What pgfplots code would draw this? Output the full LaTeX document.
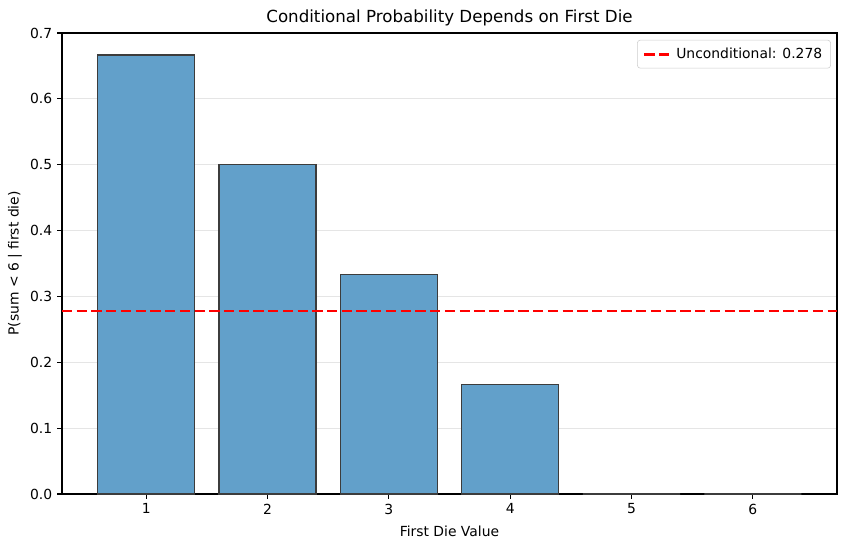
\documentclass[border=0pt]{standalone}
\usepackage{fontspec}
\setmainfont{DejaVu Sans}
\usepackage{pgfplots}
\pgfplotsset{compat=1.18}
\definecolor{barfill}{RGB}{98,160,202}
\definecolor{baredge}{RGB}{60,60,60}
\pgfplotstableread{
x y
1 0.6667
2 0.5
3 0.3333
4 0.1667
5 0
6 0
}\probs
\begin{document}
\begin{tikzpicture}
\useasboundingbox (-44.64pt,-38.16pt) rectangle (564.48pt,355.68pt);
\begin{axis}[
  at={(0,0)}, anchor=south west,
  scale only axis,
  width=558pt, height=331.92pt,
  xmin=0.306, xmax=6.694,
  ymin=0, ymax=0.7,
  xtick={1,2,3,4,5,6},
  ytick={0,0.1,0.2,0.3,0.4,0.5,0.6,0.7},
  yticklabel style={/pgf/number format/.cd, fixed, fixed zerofill, precision=1},
  /pgf/number format/assume math mode=true,
  tick align=outside,
  tick pos=left,
  major tick length=3.5pt,
  tick style={black, line width=0.8pt},
  axis line style={black, line width=0.8pt},
  ymajorgrids,
  grid style={line width=0.8pt, black!10},
  tick label style={font=\fontsize{10}{12}\selectfont},
  label style={font=\fontsize{10}{12}\selectfont},
  title style={font=\fontsize{12}{14}\selectfont, yshift=-4.5pt},
  title={Conditional Probability Depends on First Die},
  xlabel={First Die Value},
  ylabel={P(sum < 6 | first die)},
  xlabel style={yshift=-1.5pt},
  ylabel style={yshift=-1pt},
  legend style={at={(0.992,0.985)}, anchor=north east, draw=black!20, rounded corners=2pt, font=\fontsize{10}{12}\selectfont, inner xsep=4pt, inner ysep=3.5pt},
  legend cell align=left,
  legend image code/.code={\draw[#1] (0pt,0pt) -- (20pt,0pt);},
]
\addplot[ybar, bar width=0.8, fill=barfill, draw=baredge, line width=1pt, forget plot] table[x=x,y=y] {\probs};
\addplot[red, line width=2pt, dash pattern=on 7.4pt off 3.2pt] coordinates {(0.306,0.2778) (6.694,0.2778)};
\addlegendentry{Unconditional: 0.278}
\end{axis}
\end{tikzpicture}
\end{document}
